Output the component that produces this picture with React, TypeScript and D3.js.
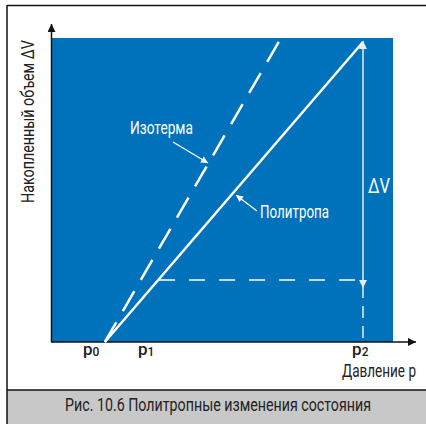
import React, { useLayoutEffect, useRef, useState } from "react";
import * as d3 from "d3";

// data (domain units: pressure 0..100, volume 0..100)
const pressureTicks = [
  { key: "0", value: 9.1 },
  { key: "1", value: 25.2 },
  { key: "2", value: 88.0 },
];
const p0 = 15.5;
const p2 = 91.2;
const pIsoTop = 66.5;
const vTop = 98.7;
const v1 = 20.4;
const pV1 = 31.4;
const polytrope: [number, number][] = [[p0, 0], [p2, vTop]];
const isotherm: [number, number][] = [[pIsoTop, vTop], [p0, 0]];
const labels = {
  yAxis: "Накопленный объем ΔV",
  xAxis: "Давление p",
  iso: "Изотерма",
  poly: "Политропа",
  dv: "ΔV",
  caption: "Рис. 10.6 Политропные изменения состояния",
};

const W = 426, H = 424;
const FONT = "'Roboto', 'Liberation Sans', sans-serif";
const BLUE = "#0071bb";

function FitText(props: { x: number; y: number; width: number; rotate?: number; fontSize: number; fill: string; children: string }) {
  const ref = useRef<SVGTextElement>(null);
  const [s, setS] = useState(0.8);
  useLayoutEffect(() => {
    if (ref.current) {
      const w = ref.current.getComputedTextLength();
      if (w > 0) setS(props.width / w);
    }
  }, [props.width, props.children, props.fontSize]);
  const rot = props.rotate ? ` rotate(${props.rotate})` : "";
  return (
    <g transform={`translate(${props.x},${props.y})${rot} scale(${s},1)`}>
      <text ref={ref} x={0} y={0} fontSize={props.fontSize} fill={props.fill}>{props.children}</text>
    </g>
  );
}

export default function App() {
  const x = d3.scaleLinear().domain([0, 100]).range([52, 393]);
  const y = d3.scaleLinear().domain([0, 100]).range([342, 38]);
  const line = d3.line<[number, number]>().x(d => x(d[0])).y(d => y(d[1]));

  return (
    <svg width={W} height={H} style={{ position: "absolute", left: 0, top: 0 }} fontFamily={FONT}>
      <defs>
        <marker id="arrW" viewBox="0 0 10 10" refX="10" refY="5" markerWidth="8" markerHeight="7" orient="auto" markerUnits="userSpaceOnUse">
          <path d="M0,0 L10,5 L0,10 z" fill="#fff" />
        </marker>
        <marker id="arrK" viewBox="0 0 10 10" refX="10" refY="5" markerWidth="12" markerHeight="8" orient="auto" markerUnits="userSpaceOnUse">
          <path d="M0,0 L10,5 L0,10 z" fill="#111" />
        </marker>
        <marker id="arrDV" viewBox="0 0 10 10" refX="10" refY="5" markerWidth="14" markerHeight="8" orient="auto" markerUnits="userSpaceOnUse">
          <path d="M0,0 L10,5 L0,10 z" fill="#e8eef8" />
        </marker>
      </defs>
      <rect x={0} y={0} width={W} height={H} fill="#fff" />
      {/* caption band */}
      <rect x={7} y={390} width={W - 7} height={H - 390} fill="#c8c8c8" />
      <line x1={7} x2={W} y1={390} y2={390} stroke="#111" strokeWidth={1.5} />
      <line x1={7} x2={W} y1={5.5} y2={5.5} stroke="#111" strokeWidth={1.5} />
      <line x1={7} x2={7} y1={5} y2={H} stroke="#111" strokeWidth={1.5} />
      <FitText x={65} y={411} width={306} fontSize={18.5} fill="#222">{labels.caption}</FitText>

      {/* plot area */}
      <rect x={x(0)} y={y(100)} width={x(100) - x(0)} height={y(0) - y(100)} fill={BLUE} />

      {/* axes */}
      <line x1={x(0) - 0.5} x2={x(0) - 0.5} y1={y(0)} y2={24} stroke="#111" strokeWidth={1.5} markerEnd="url(#arrK)" />
      <line x1={x(0) - 1} x2={416} y1={y(0)} y2={y(0)} stroke="#111" strokeWidth={1.5} markerEnd="url(#arrK)" />

      {/* isotherm dashed */}
      <path d={line(isotherm) || ""} fill="none" stroke="#fff" strokeWidth={2.5} strokeDasharray="23,13" />
      {/* polytrope */}
      <path d={line(polytrope) || ""} fill="none" stroke="#fff" strokeWidth={2.5} />

      {/* horizontal dashed */}
      <line x1={x(pV1)} x2={x(p2)} y1={y(v1)} y2={y(v1)} stroke="#fff" strokeWidth={1.5} strokeDasharray="16,14" />
      {/* ΔV arrows */}
      <line x1={x(p2)} x2={x(p2)} y1={y(v1) - 10} y2={y(vTop) - 1} stroke="#e8eef8" strokeWidth={1.5} markerEnd="url(#arrDV)" />
      <line x1={x(p2)} x2={x(p2)} y1={y(v1) - 10} y2={y(v1) + 8} stroke="#e8eef8" strokeWidth={1.5} markerEnd="url(#arrDV)" />
      <line x1={x(p2)} x2={x(p2)} y1={y(v1) + 8} y2={y(v1) + 18} stroke="#e8eef8" strokeWidth={1.5} />
      <line x1={x(p2)} x2={x(p2)} y1={y(v1) + 26} y2={y(0)} stroke="#e8eef8" strokeWidth={1.5} strokeDasharray="12,8" />
      <FitText x={368} y={193} width={22} fontSize={20} fill="#fff">{labels.dv}</FitText>

      {/* annotation labels */}
      <FitText x={130} y={134} width={63} fontSize={18.5} fill="#fff">{labels.iso}</FitText>
      <line x1={173} y1={142} x2={208} y2={163} stroke="#fff" strokeWidth={1.3} markerEnd="url(#arrW)" />
      <FitText x={260} y={218} width={69} fontSize={18.5} fill="#fff">{labels.poly}</FitText>
      <line x1={257} y1={211} x2={236} y2={195} stroke="#fff" strokeWidth={1.3} markerEnd="url(#arrW)" />

      {/* pressure tick labels */}
      {pressureTicks.map(t => (
        <text key={t.key} x={x(t.value)} y={355} fontSize={17} fill="#222" fontWeight={500}>
          p<tspan fontSize={12} dy={1}>{t.key}</tspan>
        </text>
      ))}
      <FitText x={342} y={377} width={74} fontSize={18} fill="#222">{labels.xAxis}</FitText>
      <FitText x={34} y={203} rotate={-90} width={163} fontSize={18.5} fill="#222">{labels.yAxis}</FitText>
    </svg>
  );
}
